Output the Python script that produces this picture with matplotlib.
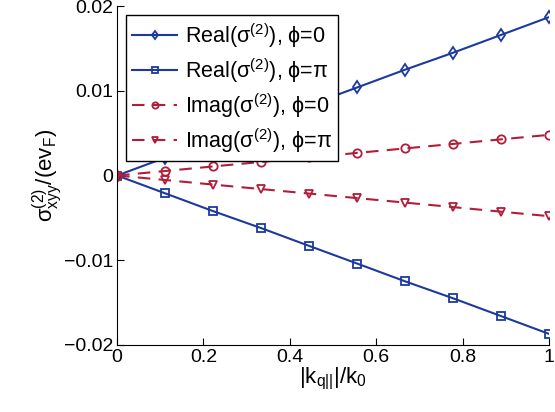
import matplotlib.pyplot as plt

plt.rcParams['font.family'] = ['Liberation Sans', 'DejaVu Sans']
plt.rcParams['mathtext.fontset'] = 'custom'
plt.rcParams['mathtext.rm'] = 'Liberation Sans'
plt.rcParams['mathtext.it'] = 'Liberation Sans'
plt.rcParams['mathtext.default'] = 'regular'

k = [0, 0.111, 0.222, 0.333, 0.444, 0.556, 0.667, 0.778, 0.889, 1.0]
real_phi0 = [0, 0.0021, 0.0042, 0.0062, 0.0083, 0.0104, 0.0125, 0.0145, 0.0166, 0.0187]
real_phipi = [0, -0.0021, -0.0042, -0.0062, -0.0083, -0.0104, -0.0125, -0.0145, -0.0166, -0.0187]
imag_phi0 = [0, 0.00053, 0.00107, 0.0016, 0.00213, 0.00267, 0.0032, 0.00373, 0.00427, 0.0048]
imag_phipi = [0, -0.00053, -0.00107, -0.0016, -0.00213, -0.00267, -0.0032, -0.00373, -0.00427, -0.0048]

blue = '#1c3a9c'
red = '#b01e3a'

fig = plt.figure(figsize=(5.55, 4.12), dpi=100)
ax = fig.add_axes([0.211, 0.163, 0.778, 0.822])

kw = dict(markerfacecolor='none', markersize=6, markeredgewidth=1.3, linewidth=1.5)
ax.plot(k, real_phi0, '-', color=blue, marker='d', label=r'Real($\sigma^{(2)}$), ϕ=0', **kw)
ax.plot(k, real_phipi, '-', color=blue, marker='s', label=r'Real($\sigma^{(2)}$), ϕ=π', **kw)
ax.plot(k, imag_phi0, '--', color=red, marker='o', label=r'Imag($\sigma^{(2)}$), ϕ=0', dashes=(6, 4), **kw)
ax.plot(k, imag_phipi, '--', color=red, marker='v', label=r'Imag($\sigma^{(2)}$), ϕ=π', dashes=(6, 4), **kw)

ax.set_xlim(0, 1)
ax.set_ylim(-0.02, 0.02)
ax.set_xticks([0, 0.2, 0.4, 0.6, 0.8, 1])
ax.set_xticklabels(['0', '0.2', '0.4', '0.6', '0.8', '1'])
ax.set_yticks([-0.02, -0.01, 0, 0.01, 0.02])
ax.set_yticklabels(['\u22120.02', '\u22120.01', '0', '0.01', '0.02'])
ax.tick_params(direction='in', labelsize=14, length=5, width=0.8, pad=3)
ax.spines['top'].set_visible(False)
ax.spines['right'].set_visible(False)

ax.set_xlabel(r'$|k_{q||}|/k_0$', fontsize=16, labelpad=0)
ax.set_ylabel(r'$\sigma^{(2)}_{xyy}/(ev_F)$', fontsize=16, labelpad=0)

leg = ax.legend(loc='upper left', fontsize=15.5, frameon=True, fancybox=False,
                edgecolor='black', framealpha=1, handlelength=2.1, handletextpad=0.35,
                markerscale=0.75, borderaxespad=0.4, borderpad=0.3, labelspacing=0.3)
leg.get_frame().set_linewidth(1.0)

fig.savefig('out.png', dpi=100)
